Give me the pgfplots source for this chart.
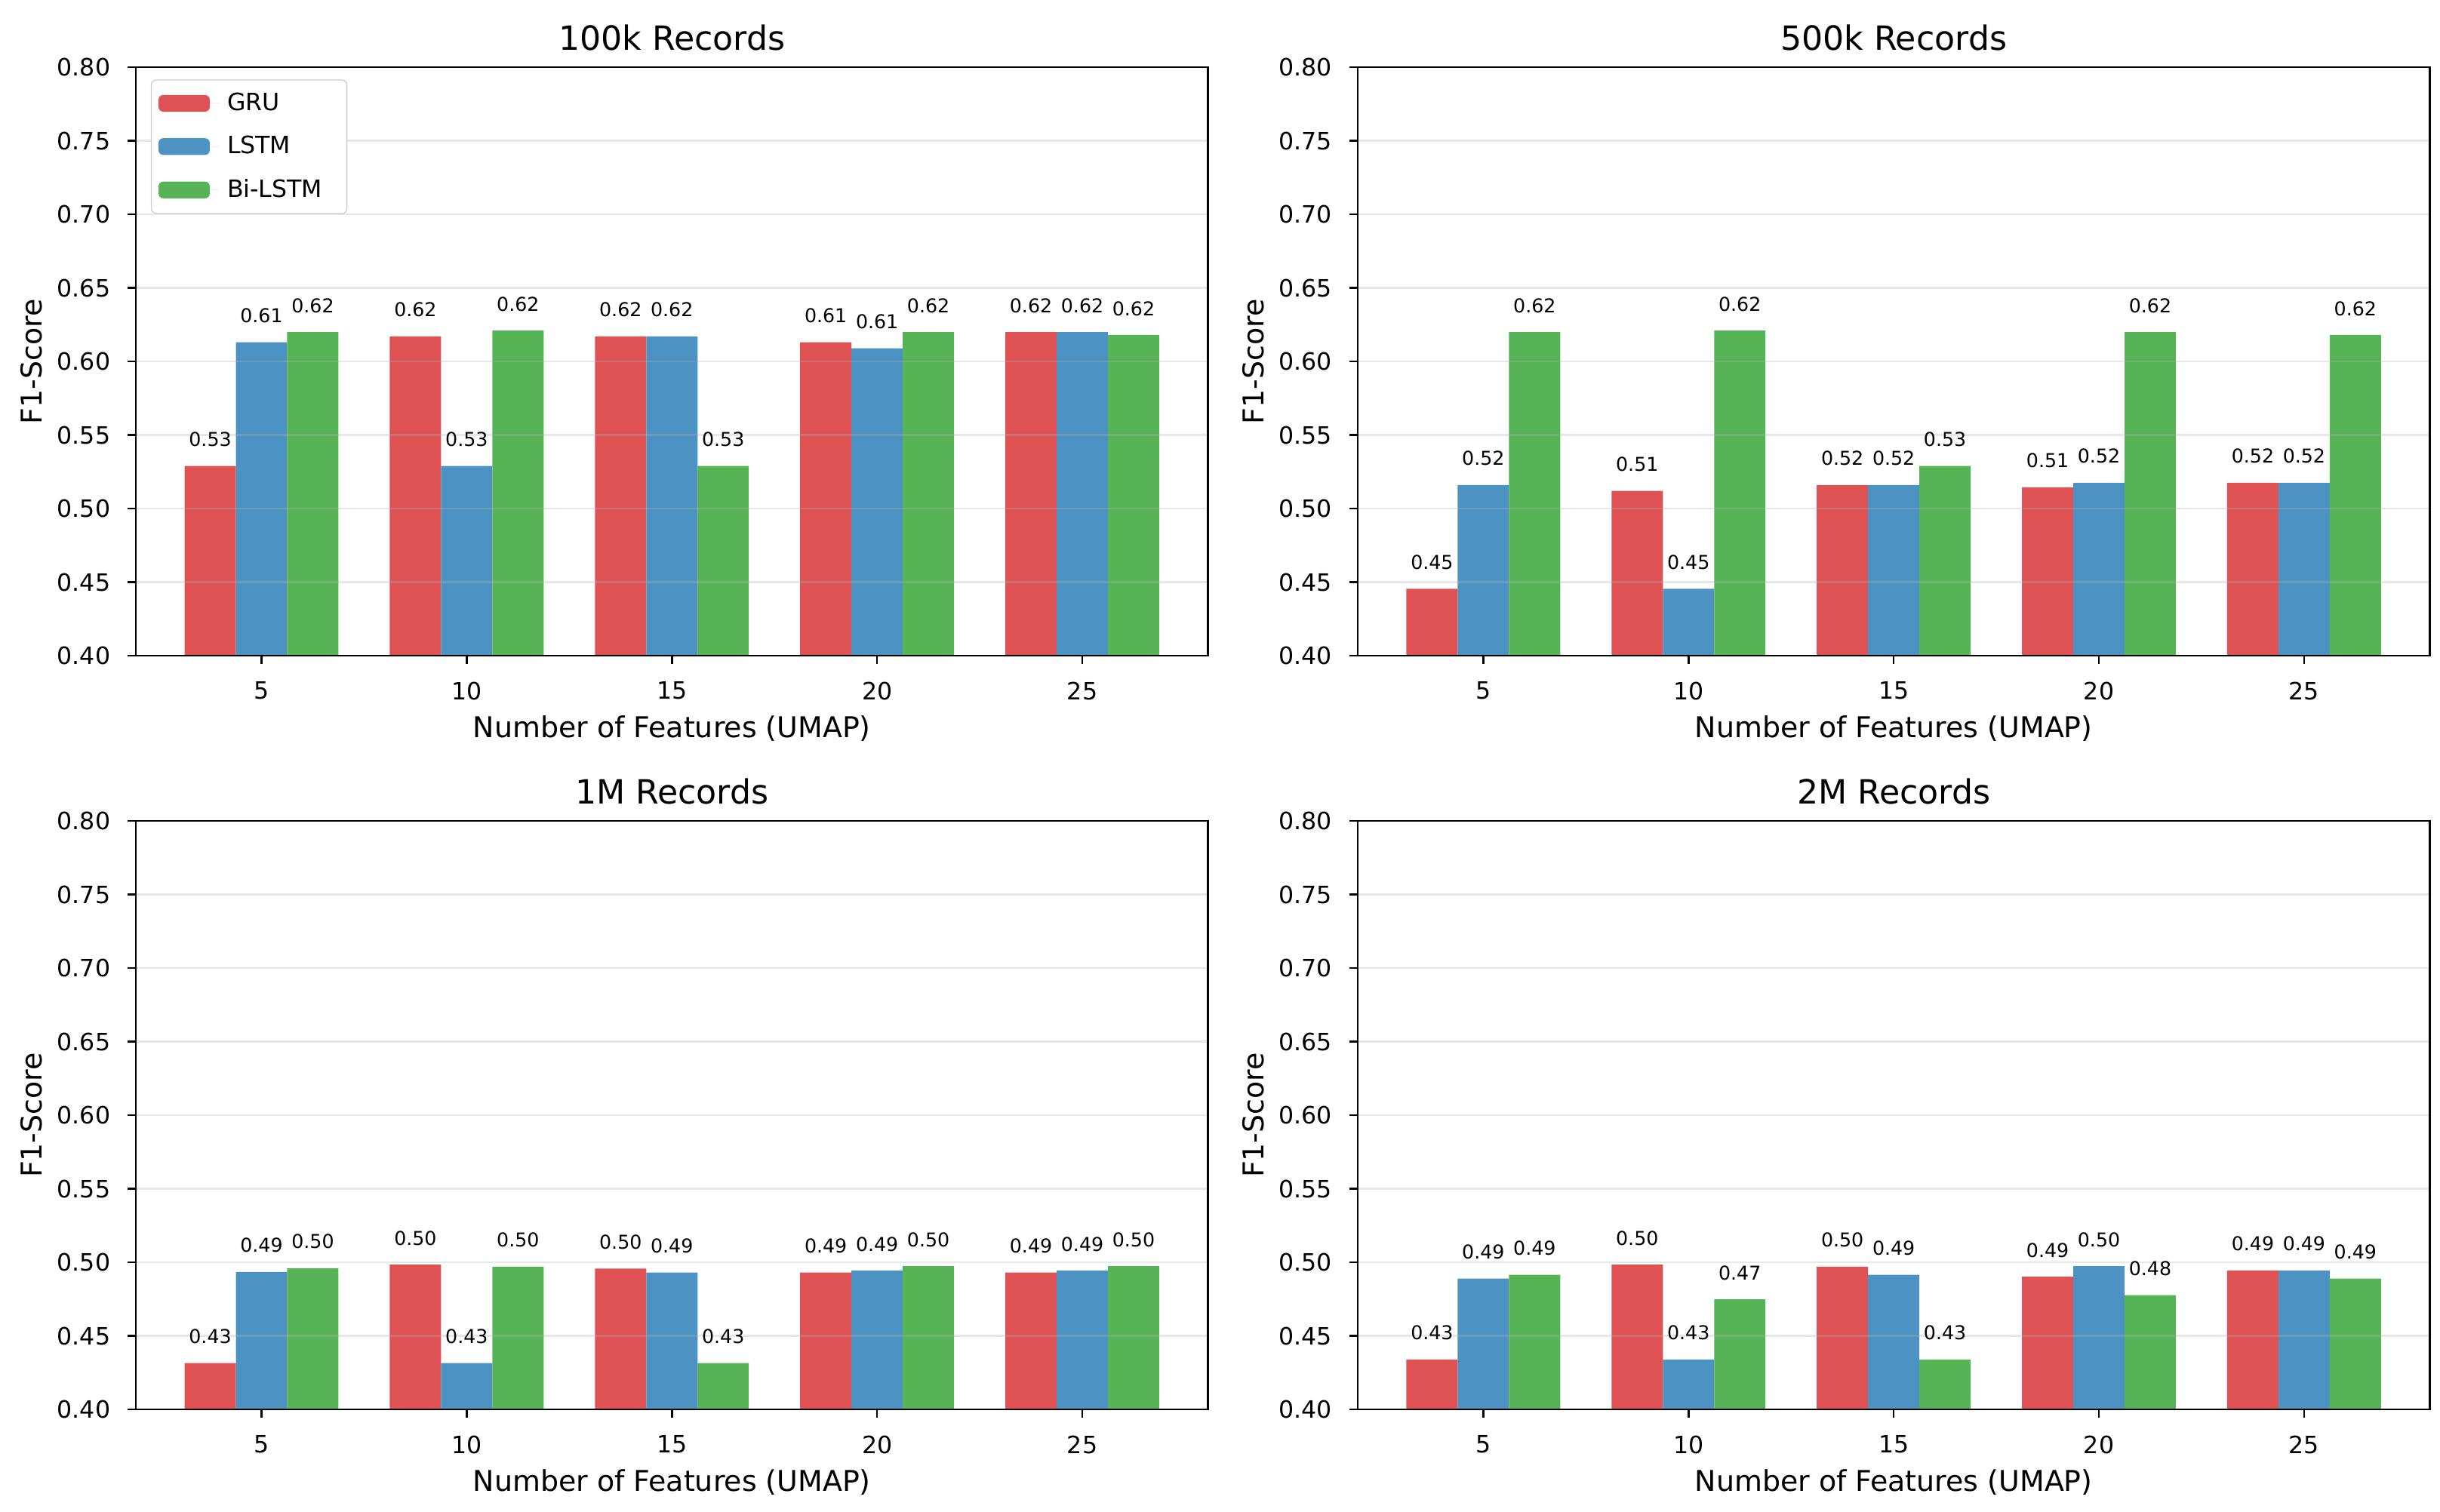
\documentclass[border=0pt]{standalone}
\usepackage{fontspec}
\setmainfont{DejaVu Sans}
\usepackage{pgfplots}
\pgfplotsset{compat=1.18}
\usepackage{pgfplotstable}

\definecolor{cgru}{RGB}{222,82,83}
\definecolor{clstm}{RGB}{76,146,195}
\definecolor{cbi}{RGB}{86,179,86}

\pgfplotstableread{
x gru lstm bi
0 0.529 0.613 0.620
1 0.617 0.529 0.621
2 0.617 0.617 0.529
3 0.613 0.609 0.620
4 0.620 0.620 0.618
}\tA
\pgfplotstableread{
x gru lstm bi
0 0.4455 0.516 0.620
1 0.512 0.4455 0.621
2 0.516 0.516 0.529
3 0.5145 0.5175 0.620
4 0.5175 0.5175 0.618
}\tB
\pgfplotstableread{
x gru lstm bi
0 0.4315 0.4934 0.4960
1 0.4984 0.4315 0.4970
2 0.4957 0.4931 0.4315
3 0.4930 0.4944 0.4974
4 0.4930 0.4944 0.4974
}\tC
\pgfplotstableread{
x gru lstm bi
0 0.4340 0.4889 0.4915
1 0.4984 0.4340 0.4748
2 0.4970 0.4915 0.4340
3 0.4902 0.4974 0.4777
4 0.4945 0.4945 0.4889
}\tD

\pgfplotsset{
  panel/.style={
    scale only axis,
    width=449.5pt, height=246.8pt,
    anchor=south west,
    xmin=-0.6125, xmax=4.6125,
    ymin=0.4, ymax=0.8,
    xtick={0,1,2,3,4},
    xticklabels={5,10,15,20,25},
    ytick={0.40,0.45,0.50,0.55,0.60,0.65,0.70,0.75,0.80},
    yticklabel={\pgfmathprintnumber[fixed,fixed zerofill,precision=2,assume math mode=true]{\tick}},
    tick align=outside,
    tick pos=left,
    major tick length=3.5pt,
    every tick/.style={black, line width=0.8pt},
    axis line style={line width=0.8pt},
    ticklabel style={font=\fontsize{10}{12}\selectfont},
    xticklabel style={anchor=north, inner sep=0pt, yshift=-7.3pt},
    yticklabel style={anchor=east, inner sep=0pt, xshift=-7pt},
    ymajorgrids,
    grid style={color=black!31, opacity=0.3, line width=0.8pt},
    axis on top,
    ybar, bar width=0.25,
    every axis title shift=0pt,
    title style={font=\fontsize{14}{16}\selectfont, at={(axis description cs:0.5,1)}, anchor=base, inner sep=0pt, yshift=7.3pt},
    xlabel={Number of Features (UMAP)},
    ylabel={F1-Score},
    xlabel style={font=\fontsize{12}{14}\selectfont, at={(axis description cs:0.5,0)}, anchor=north, inner sep=0pt, yshift=-25pt},
    ylabel style={font=\fontsize{12}{14}\selectfont, at={([xshift=-39.5pt]axis description cs:0,0.5)}, rotate=0, anchor=base, inner sep=0pt},
    nodes near coords={\pgfmathprintnumber[fixed,fixed zerofill,precision=2,assume math mode=true]{\pgfplotspointmeta}},
    nodes near coords style={font=\fontsize{8}{9.6}\selectfont, anchor=south, inner sep=0pt, yshift=7.9pt, text=black},
    legend image code/.code={\draw[#1, draw=none] (0pt,-3.5pt) rectangle (21.5pt,3.5pt); \path (0pt,0pt) -- (25.5pt,0pt);},
  },
  bgru/.style={fill=cgru, draw=none, bar shift=-0.25},
  blstm/.style={fill=clstm, draw=none, bar shift=0},
  bbi/.style={fill=cbi, draw=none, bar shift=0.25},
}

\begin{document}
\begin{tikzpicture}
\begin{axis}[panel, at={(56.95pt,359.1pt)}, title={100k Records},
  legend style={at={(rel axis cs:0.014,0.979)}, anchor=north west, draw=black!20, rounded corners=2pt,
    font=\fontsize{10}{12}\selectfont, row sep=2.6pt, inner xsep=3pt, inner ysep=2pt,
    nodes={inner sep=3.3pt}},
  legend cell align=left]
\addplot[bgru] table[x=x, y=gru] {\tA};
\addplot[blstm] table[x=x, y=lstm] {\tA};
\addplot[bbi] table[x=x, y=bi] {\tA};
\legend{GRU, LSTM, Bi-LSTM\hspace*{4pt}}
\end{axis}
\begin{axis}[panel, at={(569.2pt,359.1pt)}, title={500k Records}]
\addplot[bgru] table[x=x, y=gru] {\tB};
\addplot[blstm] table[x=x, y=lstm] {\tB};
\addplot[bbi] table[x=x, y=bi] {\tB};
\end{axis}
\begin{axis}[panel, at={(56.95pt,43.0pt)}, title={1M Records}]
\addplot[bgru] table[x=x, y=gru] {\tC};
\addplot[blstm] table[x=x, y=lstm] {\tC};
\addplot[bbi] table[x=x, y=bi] {\tC};
\end{axis}
\begin{axis}[panel, at={(569.2pt,43.0pt)}, title={2M Records}]
\addplot[bgru] table[x=x, y=gru] {\tD};
\addplot[blstm] table[x=x, y=lstm] {\tD};
\addplot[bbi] table[x=x, y=bi] {\tD};
\end{axis}
\pgfresetboundingbox
\path (0pt,0pt) rectangle (1023pt,634.1pt);
\end{tikzpicture}
\end{document}
